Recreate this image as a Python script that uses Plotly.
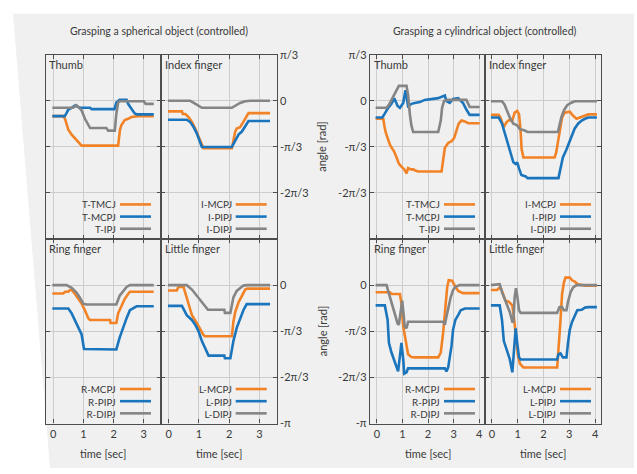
import math
import plotly.graph_objects as go

PI = math.pi

# ---------------- data (time [sec], angle [rad]) ----------------
# Spherical object (left group)
sph_thumb_tmcj_t = [-0.03, 0.33, 0.39, 0.44, 0.50, 0.61, 0.72, 0.83, 0.94, 2.15, 2.21, 2.26, 2.37, 2.48, 2.59, 2.81, 3.33]
sph_thumb_tmcj_v = [-0.35, -0.35, -0.41, -0.55, -0.66, -0.77, -0.85, -0.92, -1.02, -1.02, -0.66, -0.55, -0.44, -0.41, -0.37, -0.35, -0.35]
sph_thumb_mcpj_t = [-0.03, 0.38, 0.44, 0.50, 0.61, 0.72, 0.88, 1.22, 1.27, 2.03, 2.09, 2.20, 2.43, 2.48, 2.59, 2.70, 2.78, 3.33]
sph_thumb_mcpj_v = [-0.35, -0.35, -0.28, -0.20, -0.16, -0.11, -0.16, -0.16, -0.19, -0.19, -0.04, 0.02, 0.02, -0.07, -0.18, -0.29, -0.31, -0.31]
sph_thumb_ipj_t = [-0.03, 0.66, 0.77, 0.94, 1.05, 1.16, 1.22, 1.76, 1.82, 2.04, 2.09, 2.15, 2.20, 3.00, 3.06, 3.33]
sph_thumb_ipj_v = [-0.16, -0.16, -0.10, -0.22, -0.41, -0.55, -0.62, -0.62, -0.68, -0.68, -0.30, -0.04, -0.01, -0.01, -0.07, -0.07]

sph_index_mcpj_t = [-0.02, 0.44, 0.47, 0.55, 0.66, 0.77, 0.88, 0.99, 1.10, 1.15, 2.09, 2.14, 2.20, 2.25, 2.36, 2.47, 2.58, 2.64, 3.35]
sph_index_mcpj_v = [-0.24, -0.24, -0.30, -0.30, -0.37, -0.48, -0.63, -0.81, -1.00, -1.08, -1.08, -0.89, -0.70, -0.63, -0.60, -0.48, -0.33, -0.28, -0.28]
sph_index_pipj_t = [-0.02, 0.60, 0.71, 0.82, 0.93, 1.04, 1.10, 2.09, 2.20, 2.31, 2.42, 2.53, 2.64, 3.35]
sph_index_pipj_v = [-0.43, -0.43, -0.48, -0.59, -0.74, -0.96, -1.05, -1.05, -0.89, -0.77, -0.70, -0.58, -0.46, -0.46]
sph_index_dipj_t = [-0.02, 0.71, 0.82, 0.93, 1.04, 1.10, 2.09, 2.20, 2.36, 2.53, 2.70, 3.35]
sph_index_dipj_v = [0.00, 0.00, -0.04, -0.09, -0.15, -0.16, -0.16, -0.11, -0.05, -0.01, 0.00, 0.00]

sph_ring_mcpj_t = [-0.03, 0.33, 0.39, 0.50, 0.55, 0.61, 0.72, 0.83, 0.94, 1.05, 1.16, 1.22, 1.88, 1.90, 2.09, 2.15, 2.26, 2.37, 2.48, 2.54, 3.33]
sph_ring_mcpj_v = [-0.19, -0.19, -0.15, -0.15, -0.11, -0.11, -0.20, -0.31, -0.42, -0.57, -0.75, -0.79, -0.79, -0.86, -0.86, -0.64, -0.46, -0.31, -0.20, -0.15, -0.15]
sph_ring_pipj_t = [-0.03, 0.50, 0.61, 0.72, 0.83, 0.94, 1.02, 2.09, 2.20, 2.31, 2.43, 2.54, 2.65, 2.76, 3.33]
sph_ring_pipj_v = [-0.53, -0.53, -0.64, -0.79, -0.94, -1.12, -1.45, -1.46, -1.19, -0.97, -0.75, -0.57, -0.53, -0.48, -0.48]
sph_ring_dipj_t = [-0.03, 0.44, 0.61, 0.77, 0.88, 0.99, 1.10, 2.09, 2.20, 2.31, 2.43, 2.54, 3.33]
sph_ring_dipj_v = [0.00, 0.00, -0.06, -0.17, -0.28, -0.42, -0.44, -0.44, -0.24, -0.13, -0.04, 0.00, 0.00]

sph_little_mcpj_t = [-0.02, 0.27, 0.33, 0.44, 0.47, 0.55, 0.66, 0.77, 0.93, 1.04, 1.15, 1.20, 2.09, 2.14, 2.20, 2.31, 2.42, 2.53, 2.60, 3.35]
sph_little_mcpj_v = [-0.12, -0.12, -0.04, -0.04, 0.01, -0.17, -0.42, -0.68, -0.86, -1.01, -1.13, -1.16, -1.16, -0.83, -0.61, -0.39, -0.24, -0.10, -0.08, -0.08]
sph_little_pipj_t = [-0.02, 0.44, 0.60, 0.77, 0.88, 0.99, 1.10, 1.21, 1.32, 1.84, 1.86, 2.04, 2.14, 2.25, 2.36, 2.47, 2.58, 3.35]
sph_little_pipj_v = [-0.47, -0.47, -0.68, -0.79, -0.90, -1.05, -1.27, -1.45, -1.60, -1.60, -1.66, -1.66, -1.27, -0.97, -0.75, -0.57, -0.43, -0.43]
sph_little_dipj_t = [-0.02, 0.60, 0.77, 0.93, 1.04, 1.21, 1.30, 1.84, 1.86, 2.04, 2.09, 2.14, 2.25, 2.36, 2.47, 2.60, 3.35]
sph_little_dipj_v = [0.00, 0.00, -0.10, -0.24, -0.35, -0.50, -0.56, -0.56, -0.63, -0.63, -0.46, -0.28, -0.13, -0.06, -0.01, 0.00, 0.00]

# Cylindrical object (right group)
cyl_thumb_tmcj_t = [-0.05, 0.25, 0.29, 0.34, 0.42, 0.51, 0.60, 0.68, 0.77, 0.86, 0.96, 1.07, 1.16, 1.22, 1.33, 1.42, 1.48, 1.61, 2.53, 2.59, 2.66, 2.79, 2.92, 3.02, 3.11, 3.20, 3.31, 3.44, 3.57, 4.02]
cyl_thumb_tmcj_v = [-0.41, -0.41, -0.56, -0.71, -0.85, -1.00, -1.09, -1.16, -1.29, -1.43, -1.50, -1.56, -1.65, -1.53, -1.56, -1.56, -1.58, -1.61, -1.61, -1.32, -1.07, -0.96, -0.92, -0.85, -0.67, -0.52, -0.45, -0.47, -0.51, -0.51]
cyl_thumb_mcpj_t = [-0.05, 0.21, 0.29, 0.44, 0.57, 0.68, 0.81, 0.90, 1.03, 1.12, 1.22, 1.35, 1.48, 1.68, 1.87, 2.14, 2.40, 2.66, 2.72, 2.85, 2.98, 3.18, 3.37, 3.50, 3.63, 4.02]
cyl_thumb_mcpj_v = [-0.38, -0.38, -0.31, -0.16, -0.07, 0.06, -0.12, -0.16, -0.05, 0.24, -0.12, -0.07, -0.05, -0.03, 0.02, 0.04, 0.06, 0.12, -0.01, -0.05, 0.04, 0.06, -0.05, -0.20, -0.32, -0.32]
cyl_thumb_ipj_t = [-0.05, 0.38, 0.47, 0.57, 0.70, 0.86, 1.16, 1.22, 1.29, 1.35, 1.42, 2.40, 2.50, 2.55, 2.63, 2.79, 3.50, 3.57, 3.63, 4.02]
cyl_thumb_ipj_v = [-0.16, -0.16, -0.09, 0.02, 0.13, 0.34, 0.34, 0.13, -0.31, -0.56, -0.71, -0.71, -0.45, -0.16, 0.00, 0.02, 0.02, -0.05, -0.14, -0.14]

cyl_index_mcpj_t = [-0.04, 0.26, 0.33, 0.46, 0.56, 0.66, 0.79, 0.88, 0.98, 1.05, 1.11, 1.15, 1.22, 2.43, 2.49, 2.62, 2.72, 2.82, 3.02, 3.15, 3.28, 3.41, 3.61, 3.74, 4.07]
cyl_index_mcpj_v = [-0.32, -0.32, -0.38, -0.60, -0.49, -0.44, -0.45, -0.27, -0.23, -0.31, -0.67, -1.10, -1.29, -1.29, -1.18, -0.67, -0.38, -0.27, -0.25, -0.34, -0.41, -0.38, -0.34, -0.31, -0.31]
cyl_index_pipj_t = [-0.04, 0.26, 0.39, 0.52, 0.62, 0.72, 0.83, 0.92, 0.98, 1.05, 1.14, 1.31, 1.38, 2.58, 2.66, 2.75, 2.89, 3.02, 3.11, 3.21, 3.34, 3.48, 3.61, 3.74, 4.07]
cyl_index_pipj_v = [-0.38, -0.38, -0.52, -0.78, -0.96, -1.18, -1.40, -1.44, -1.40, -1.54, -1.69, -1.72, -1.76, -1.76, -1.54, -1.29, -1.11, -0.92, -0.78, -0.63, -0.52, -0.45, -0.41, -0.38, -0.38]
cyl_index_dipj_t = [-0.04, 0.39, 0.49, 0.59, 0.69, 0.83, 0.98, 1.09, 1.25, 1.38, 2.56, 2.62, 2.69, 2.79, 2.92, 3.06, 3.21, 4.07]
cyl_index_dipj_v = [-0.01, -0.01, -0.09, -0.23, -0.38, -0.52, -0.56, -0.65, -0.67, -0.71, -0.71, -0.56, -0.38, -0.22, -0.10, -0.05, -0.01, -0.01]

cyl_ring_mcpj_t = [-0.05, 0.51, 0.57, 0.90, 0.96, 1.03, 1.09, 1.16, 1.22, 1.35, 1.48, 2.40, 2.50, 2.59, 2.68, 2.75, 2.81, 2.94, 3.05, 3.18, 3.37, 4.02]
cyl_ring_mcpj_v = [-0.16, -0.16, -0.20, -0.20, -0.42, -0.94, -1.13, -1.38, -1.57, -1.63, -1.64, -1.64, -1.53, -1.09, -0.50, -0.05, 0.11, 0.10, -0.01, -0.13, -0.18, -0.18]
cyl_ring_pipj_t = [-0.05, 0.31, 0.42, 0.47, 0.57, 0.68, 0.77, 0.83, 0.90, 0.96, 1.03, 1.07, 1.16, 1.22, 2.66, 2.72, 2.79, 2.85, 2.92, 2.98, 3.07, 3.18, 3.28, 3.44, 4.02]
cyl_ring_pipj_v = [-0.46, -0.46, -0.79, -1.31, -1.53, -1.72, -1.90, -1.96, -1.61, -1.31, -1.68, -2.01, -1.98, -1.89, -1.89, -1.96, -1.87, -1.68, -1.38, -1.01, -0.79, -0.68, -0.57, -0.53, -0.53]
cyl_ring_dipj_t = [-0.05, 0.38, 0.44, 0.51, 0.60, 0.70, 0.81, 0.86, 0.94, 0.99, 1.04, 1.09, 1.16, 1.22, 2.59, 2.66, 2.72, 2.79, 2.89, 2.98, 3.07, 3.24, 4.02]
cyl_ring_dipj_v = [0.00, 0.00, -0.13, -0.27, -0.46, -0.64, -0.87, -0.90, -0.57, -0.35, -0.64, -0.94, -0.98, -0.83, -0.83, -0.90, -0.72, -0.50, -0.27, -0.11, -0.04, 0.00, 0.00]

cyl_little_mcpj_t = [-0.04, 0.20, 0.26, 0.36, 0.43, 0.52, 0.66, 0.79, 0.85, 0.92, 1.01, 1.09, 1.22, 2.53, 2.58, 2.66, 2.72, 2.79, 2.85, 3.02, 3.11, 3.21, 3.34, 3.61, 4.07]
cyl_little_mcpj_v = [-0.11, -0.11, -0.07, -0.09, -0.20, -0.35, -0.38, -0.46, -0.72, -1.16, -1.61, -1.79, -1.87, -1.87, -1.53, -0.79, -0.20, 0.06, 0.17, 0.17, 0.11, 0.08, 0.02, -0.01, -0.01]
cyl_little_pipj_t = [-0.04, 0.30, 0.39, 0.46, 0.59, 0.69, 0.79, 0.85, 0.92, 0.98, 1.05, 1.11, 2.53, 2.58, 2.66, 2.75, 2.89, 2.95, 3.02, 3.11, 3.21, 3.31, 3.48, 3.61, 3.74, 4.07]
cyl_little_pipj_v = [-0.46, -0.46, -0.79, -1.27, -1.50, -1.68, -1.98, -1.57, -0.98, -1.31, -1.64, -1.69, -1.69, -1.57, -1.55, -1.64, -1.64, -1.31, -1.01, -0.83, -0.68, -0.57, -0.56, -0.51, -0.50, -0.50]
cyl_little_dipj_t = [-0.04, 0.30, 0.39, 0.49, 0.59, 0.69, 0.79, 0.83, 0.88, 0.93, 0.98, 1.05, 1.11, 2.53, 2.62, 2.72, 2.79, 2.89, 2.95, 3.05, 3.15, 3.28, 4.07]
cyl_little_dipj_v = [0.00, 0.02, -0.16, -0.31, -0.46, -0.61, -0.83, -0.83, -0.27, -0.07, -0.24, -0.57, -0.63, -0.63, -0.50, -0.50, -0.57, -0.57, -0.38, -0.16, -0.05, 0.00, 0.00]

group_titles = ["Grasping a spherical object (controlled)", "Grasping a cylindrical object (controlled)"]
panel_titles = ["Thumb", "Index finger", "Ring finger", "Little finger"]
legend_names = [["T-TMCJ", "T-MCPJ", "T-IPJ"], ["I-MCPJ", "I-PIPJ", "I-DIPJ"],
                ["R-MCPJ", "R-PIPJ", "R-DIPJ"], ["L-MCPJ", "L-PIPJ", "L-DIPJ"]]
ytick_vals_top = [PI / 3, 0, -PI / 3, -2 * PI / 3]
ytick_text_top = ["π/3", "0", "-π/3", "-2π/3"]
ytick_vals_bot = [0, -PI / 3, -2 * PI / 3, -PI]
ytick_text_bot = ["0", "-π/3", "-2π/3", "-π"]
xticks_sph = [0, 1, 2, 3]
xticks_cyl = [0, 1, 2, 3, 4]

series = {
    ("sph", 0): [(sph_thumb_tmcj_t, sph_thumb_tmcj_v), (sph_thumb_mcpj_t, sph_thumb_mcpj_v), (sph_thumb_ipj_t, sph_thumb_ipj_v)],
    ("sph", 1): [(sph_index_mcpj_t, sph_index_mcpj_v), (sph_index_pipj_t, sph_index_pipj_v), (sph_index_dipj_t, sph_index_dipj_v)],
    ("sph", 2): [(sph_ring_mcpj_t, sph_ring_mcpj_v), (sph_ring_pipj_t, sph_ring_pipj_v), (sph_ring_dipj_t, sph_ring_dipj_v)],
    ("sph", 3): [(sph_little_mcpj_t, sph_little_mcpj_v), (sph_little_pipj_t, sph_little_pipj_v), (sph_little_dipj_t, sph_little_dipj_v)],
    ("cyl", 0): [(cyl_thumb_tmcj_t, cyl_thumb_tmcj_v), (cyl_thumb_mcpj_t, cyl_thumb_mcpj_v), (cyl_thumb_ipj_t, cyl_thumb_ipj_v)],
    ("cyl", 1): [(cyl_index_mcpj_t, cyl_index_mcpj_v), (cyl_index_pipj_t, cyl_index_pipj_v), (cyl_index_dipj_t, cyl_index_dipj_v)],
    ("cyl", 2): [(cyl_ring_mcpj_t, cyl_ring_mcpj_v), (cyl_ring_pipj_t, cyl_ring_pipj_v), (cyl_ring_dipj_t, cyl_ring_dipj_v)],
    ("cyl", 3): [(cyl_little_mcpj_t, cyl_little_mcpj_v), (cyl_little_pipj_t, cyl_little_pipj_v), (cyl_little_dipj_t, cyl_little_dipj_v)],
}

# ---------------- styling / layout ----------------
W, H = 637, 474
COLORS = ["#f28226", "#1b75bc", "#858585"]
FONT = "Lato"
TXT = "#3a3a3a"
BORDER = "#4d4d4d"
GRID = "#cccccc"
BG = "#f0f0f0"


def fx(px):
    return px / W


def fy(py):
    return 1 - py / H


ROWS = [(49.0, 238.5), (238.5, 428.3)]
COLS = {"sph": [(45.7, 161.0), (161.0, 276.7)], "cyl": [(370.0, 485.0), (485.0, 601.0)]}
XRANGE = {"sph": [-0.25, 3.57], "cyl": [-0.27, 4.23]}

fig = go.Figure()
layout = dict(
    width=W, height=H, margin=dict(l=0, r=0, t=0, b=0),
    paper_bgcolor="white", plot_bgcolor="rgba(0,0,0,0)",
    showlegend=False, font=dict(family=FONT, size=11, color=TXT),
)
annotations = []
shapes = []

# page background with slanted left edge
bg_path = "M {:.4f},{:.4f} L {:.4f},{:.4f} L {:.4f},{:.4f} L {:.4f},{:.4f} Z".format(
    fx(13), fy(7), fx(634), fy(7), fx(634), fy(474), fx(50), fy(474))
shapes.append(dict(type="path", path=bg_path, xref="paper", yref="paper",
                   fillcolor=BG, line=dict(width=0), layer="below"))

idx = 0
for g in ["sph", "cyl"]:
    for p in range(4):
        idx += 1
        r, c = p // 2, p % 2
        x0, x1 = COLS[g][c]
        y0, y1 = ROWS[r]
        xa = "xaxis" if idx == 1 else "xaxis%d" % idx
        ya = "yaxis" if idx == 1 else "yaxis%d" % idx
        xr = "x" if idx == 1 else "x%d" % idx
        yr = "y" if idx == 1 else "y%d" % idx
        xt = xticks_sph if g == "sph" else xticks_cyl
        layout[xa] = dict(
            domain=[fx(x0), fx(x1)], anchor=yr, range=XRANGE[g],
            tickvals=xt, ticktext=[str(v) for v in xt], showticklabels=(r == 1),
            ticks="inside", ticklen=4, tickwidth=1, tickcolor=BORDER,
            showline=True, linecolor=BORDER, linewidth=1.3, mirror="ticks",
            showgrid=True, gridcolor=GRID, gridwidth=1, zeroline=False,
            tickfont=dict(size=11, color=TXT, family=FONT),
        )
        if r == 0:
            tv, tt = ytick_vals_top, ytick_text_top
        else:
            tv, tt = ytick_vals_bot, ytick_text_bot
        show_lbl = (g == "sph" and c == 1) or (g == "cyl" and c == 0)
        layout[ya] = dict(
            domain=[fy(y1), fy(y0)], anchor=xr, range=[-PI - 0.002, PI / 3 + 0.002],
            tickvals=tv, ticktext=tt, showticklabels=show_lbl,
            side="right" if g == "sph" else "left",
            ticks="inside", ticklen=4, tickwidth=1, tickcolor=BORDER,
            showline=True, linecolor=BORDER, linewidth=1.3, mirror="ticks",
            showgrid=True, gridcolor=GRID, gridwidth=1, zeroline=False,
            tickfont=dict(size=11, color=TXT, family=FONT),
        )
        for k, (tt_, vv_) in enumerate(series[(g, p)]):
            fig.add_trace(go.Scatter(
                x=tt_, y=vv_, mode="lines", xaxis=xr, yaxis=yr,
                name=legend_names[p][k],
                line=dict(color=COLORS[k], width=2.6), hoverinfo="skip"))
            ly = y1 - 35.5 + 12.5 * k
            shapes.append(dict(type="line", xref="paper", yref="paper",
                               x0=fx(x1 - 41), x1=fx(x1 - 10), y0=fy(ly), y1=fy(ly),
                               line=dict(color=COLORS[k], width=2.6)))
        # legend labels (one right-aligned multi-line text block)
        annotations.append(dict(
            x=fx(x1 - 44), y=fy(y1 - 23), xref="paper", yref="paper",
            text="<br>".join(legend_names[p]), showarrow=False, align="right",
            xanchor="right", yanchor="middle", borderpad=0,
            font=dict(size=9.8, color=TXT, family=FONT)))
        # panel title
        annotations.append(dict(
            x=fx(x0 + 1.5), y=fy(y0 + 10), xref="paper", yref="paper",
            text=panel_titles[p], showarrow=False, xanchor="left", yanchor="middle",
            font=dict(size=11, color=TXT, family=FONT)))
        # x-axis title
        if r == 1:
            annotations.append(dict(
                x=fx((x0 + x1) / 2), y=fy(459), xref="paper", yref="paper",
                text="time [sec]", showarrow=False, xanchor="center", yanchor="middle",
                font=dict(size=11, color=TXT, family=FONT)))

# group titles
annotations.append(dict(x=fx(159), y=fy(25), xref="paper", yref="paper", text=group_titles[0],
                        showarrow=False, xanchor="center", yanchor="middle",
                        font=dict(size=10.5, color=TXT, family=FONT)))
annotations.append(dict(x=fx(485), y=fy(25), xref="paper", yref="paper", text=group_titles[1],
                        showarrow=False, xanchor="center", yanchor="middle",
                        font=dict(size=10.5, color=TXT, family=FONT)))
# y-axis titles of the cylindrical group
for (y0, y1) in ROWS:
    annotations.append(dict(x=fx(322), y=fy((y0 + y1) / 2), xref="paper", yref="paper",
                            text="angle [rad]", showarrow=False, textangle=-90,
                            xanchor="center", yanchor="middle",
                            font=dict(size=11, color=TXT, family=FONT)))

layout["annotations"] = annotations
layout["shapes"] = shapes
fig.update_layout(**layout)
fig.write_html("out.html", config={"displayModeBar": False},
               post_script="document.body.style.margin='0';document.body.style.overflow='hidden';")
